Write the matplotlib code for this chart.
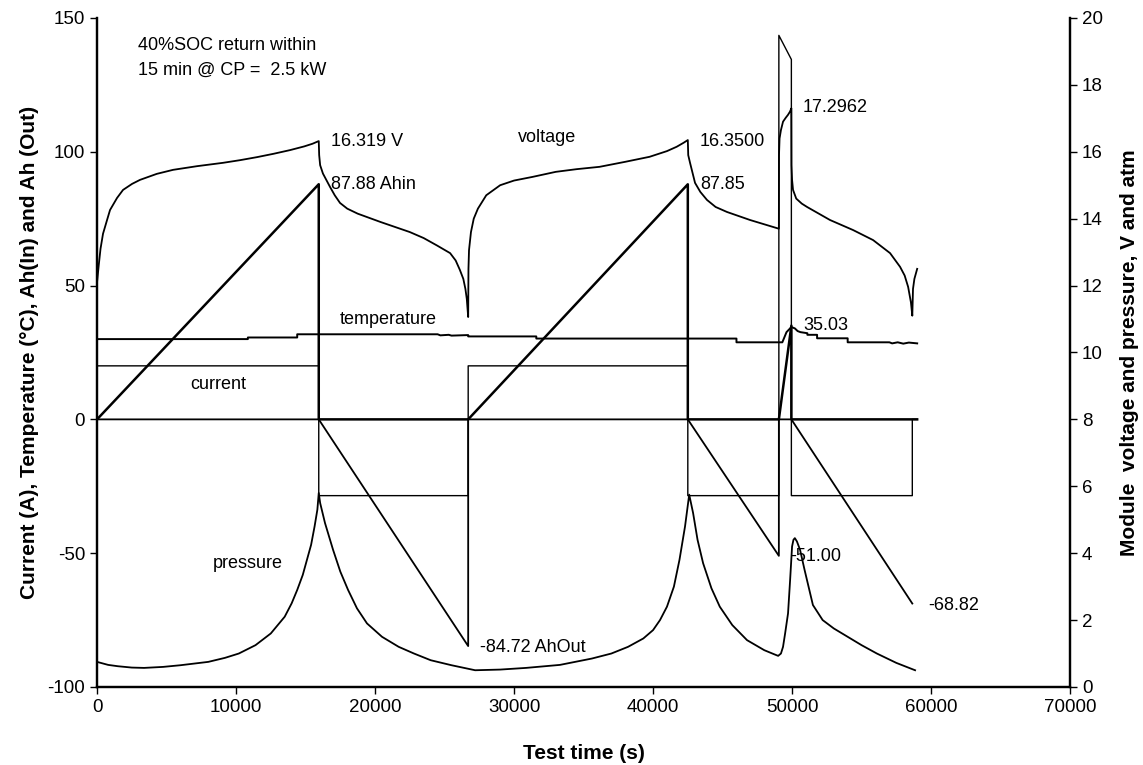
import matplotlib
matplotlib.use("Agg")
import matplotlib.pyplot as plt

plt.rcParams['font.family'] = ['Liberation Sans', 'DejaVu Sans']
plt.rcParams['axes.unicode_minus'] = False

# ---------------- data ----------------
# Current (A)
current_t = [0, 0, 15950, 15950, 26700, 26700, 42500, 42500, 49050, 49050,
             49150, 49250, 49350, 49450, 49550, 49650, 49750, 49850, 49950,
             49950, 58650, 58650, 59000]
current_a = [0, 20, 20, -28.5, -28.5, 20, 20, -28.5, -28.5, 143.5,
             142.5, 141.5, 140.5, 139.5, 138.5, 137.5, 136.5, 135.5, 134.5,
             -28.5, -28.5, 0, 0]

# Ah in
ahin_t = [0, 15950, 15950, 26700, 42500, 42500, 49050, 49950, 49950, 59000]
ahin = [0, 87.88, 0, 0, 87.85, 0, 0, 35.03, 0, 0]

# Ah out
ahout_t = [0, 15950, 26700, 26700, 42500, 49050, 49050, 49950, 58650]
ahout = [0, 0, -84.72, 0, 0, -51.00, 0, 0, -68.82]

# Temperature (C)
temp_t = [0, 10850, 10850, 14400, 14400, 24500, 24700, 25300, 25500, 26700,
          26700, 31600, 31600, 46000, 46000, 49300, 49600, 49950, 50200,
          50400, 50600, 51100, 51100, 51800, 51800, 54000, 54000, 57000,
          57200, 57600, 58000, 58400, 59000]
temp_c = [30.0, 30.0, 30.6, 30.6, 31.8, 31.8, 31.4, 31.6, 31.3, 31.5,
          31.0, 31.0, 30.2, 30.2, 28.8, 28.8, 32.6, 34.5, 34.0,
          33.0, 32.6, 32.2, 31.6, 31.6, 30.3, 30.3, 28.8, 28.8,
          28.4, 28.8, 28.3, 28.7, 28.4]

# Module voltage (V)
volt_t = [0, 120, 250, 430, 720, 935, 1440, 1870, 2520, 3090, 4300, 5470,
          7200, 9065, 10300, 11510, 12700, 13885, 14900, 15500, 15950,
          15980, 16050, 16250, 16760, 17100, 17480, 18000, 18750, 20400,
          22500, 23500, 24450, 25400, 25800, 26100, 26350, 26500, 26600, 26700,
          26720, 26760, 26900, 27100, 27400, 28000, 29000, 30000, 31340,
          33000, 34500, 36150, 38000, 39750, 41000, 41700, 42200, 42500,
          42530, 42660, 43020, 43400, 43880, 44500, 45320, 46980, 49050,
          49060, 49100, 49200, 49350, 49550, 49700, 49850, 49950,
          49960, 50000, 50070, 50300, 50700, 51080, 52730, 54390, 55830,
          57050, 57770, 58100, 58350, 58550, 58650, 58700, 58800, 59000]
volt_v = [12.1, 12.6, 13.1, 13.55, 13.96, 14.26, 14.62, 14.86, 15.04, 15.16,
          15.34, 15.46, 15.57, 15.67, 15.75, 15.84, 15.94, 16.05, 16.16,
          16.24, 16.32,
          15.9, 15.6, 15.35, 14.95, 14.7, 14.47, 14.3, 14.15, 13.9,
          13.6, 13.42, 13.2, 12.97, 12.75, 12.47, 12.2, 11.9, 11.6, 11.06,
          12.5, 13.06, 13.6, 14.0, 14.3, 14.7, 15.0, 15.14, 15.25,
          15.4, 15.48, 15.55, 15.7, 15.85, 16.02, 16.15, 16.27, 16.35,
          15.9, 15.67, 15.07, 14.8, 14.56, 14.35, 14.2, 13.96, 13.7,
          15.9, 16.4, 16.65, 16.9, 17.02, 17.1, 17.2, 17.3,
          15.6, 15.16, 14.86, 14.6, 14.45, 14.35, 13.96, 13.66, 13.36,
          12.97, 12.56, 12.3, 11.96, 11.5, 11.1, 11.9, 12.2, 12.5]

# Pressure (atm)
press_t = [0, 800, 1500, 2500, 3380, 4750, 6000, 8000, 9200, 10200, 11400,
           12500, 13500, 14000, 14400, 14800, 15100, 15400, 15650, 15850,
           15950, 16050, 16400, 16980, 17500, 18060, 18700, 19420, 20500,
           21700, 22800, 24000, 25500, 27200, 29000, 30860, 33300, 35600,
           37000, 38200, 39300, 40000, 40500, 41000, 41500, 41900, 42300,
           42600, 42880, 43200, 43600, 44200, 44800, 45700, 46760, 48000,
           48700, 49000, 49200, 49350, 49500, 49710, 49860, 50000, 50100,
           50200, 50350, 50575, 50900, 51300, 51500, 52200, 53000, 53800,
           55000, 56100, 57500, 58850]
press_p = [0.75, 0.66, 0.62, 0.58, 0.57, 0.6, 0.65, 0.75, 0.87, 1.0, 1.25,
           1.6, 2.1, 2.5, 2.9, 3.35, 3.8, 4.25, 4.8, 5.3,
           5.8, 5.5, 4.9, 4.1, 3.45, 2.9, 2.35, 1.9, 1.5,
           1.2, 1.0, 0.8, 0.65, 0.5, 0.52, 0.57, 0.66, 0.85,
           1.0, 1.2, 1.45, 1.7, 2.0, 2.4, 3.0, 3.8, 4.8,
           5.75, 5.2, 4.4, 3.7, 2.95, 2.4, 1.85, 1.4, 1.1,
           0.98, 0.93, 1.0, 1.2, 1.6, 2.2, 3.2, 4.2, 4.4,
           4.45, 4.35, 4.1, 3.5, 2.8, 2.45, 2.0, 1.75, 1.55,
           1.25, 1.0, 0.72, 0.5]

# Axis ticks
x_ticks = [0, 10000, 20000, 30000, 40000, 50000, 60000, 70000]
left_ticks = [-100, -50, 0, 50, 100, 150]
right_ticks = [0, 2, 4, 6, 8, 10, 12, 14, 16, 18, 20]

# ---------------- figure ----------------
fig = plt.figure(figsize=(11.43, 7.65), dpi=100)
ax = fig.add_axes([0.0849, 0.102, 0.8513, 0.8745])
ax2 = ax.twinx()

ax.plot(current_t, current_a, color='black', lw=1.0)
ax.plot(ahin_t, ahin, color='black', lw=1.8)
ax.plot(ahout_t, ahout, color='black', lw=1.3)
ax.plot(temp_t, temp_c, color='black', lw=1.4)
ax2.plot(volt_t, volt_v, color='black', lw=1.3)
ax2.plot(press_t, press_p, color='black', lw=1.3)

ax.set_xlim(0, 70000)
ax.set_ylim(-100, 150)
ax2.set_ylim(0, 20)
ax.set_xticks(x_ticks)
ax.set_yticks(left_ticks)
ax2.set_yticks(right_ticks)

fs_tick = 13.5
ax.tick_params(axis='both', direction='out', length=5, width=1, labelsize=fs_tick, colors='black')
ax2.tick_params(axis='y', direction='out', length=5, width=1, labelsize=fs_tick, colors='black')

for a in (ax, ax2):
    a.spines['top'].set_visible(False)
    for s in ('left', 'right', 'bottom'):
        a.spines[s].set_linewidth(1.6)

ax.set_xlabel('Test time (s)', fontsize=15, fontweight='bold', labelpad=20)
ax.set_ylabel('Current (A), Temperature (°C), Ah(In) and Ah (Out)', fontsize=15,
              fontweight='bold', labelpad=6)
ax2.set_ylabel('Module  voltage and pressure, V and atm', fontsize=15,
               fontweight='bold', rotation=90, labelpad=12)

fs = 13
def txt(x, y, s):
    ax.text(x, y, s, fontsize=fs, ha='left', va='center')

txt(2950, 139.9, '40%SOC return within')
txt(2950, 130.6, '15 min @ CP =  2.5 kW')
txt(16830, 103.7, '16.319 V')
txt(16830, 87.6, '87.88 Ahin')
txt(30290, 105.2, 'voltage')
txt(43380, 103.7, '16.3500')
txt(43380, 87.6, '87.85')
txt(50790, 116.4, '17.2962')
txt(17480, 37.5, 'temperature')
txt(50790, 34.9, '35.03')
txt(6690, 12.9, 'current')
txt(8345, -53.7, 'pressure')
txt(49850, -51.4, '-51.00')
txt(27550, -85.1, '-84.72 AhOut')
txt(59780, -69.4, '-68.82')

fig.savefig('out.png', dpi=100)
